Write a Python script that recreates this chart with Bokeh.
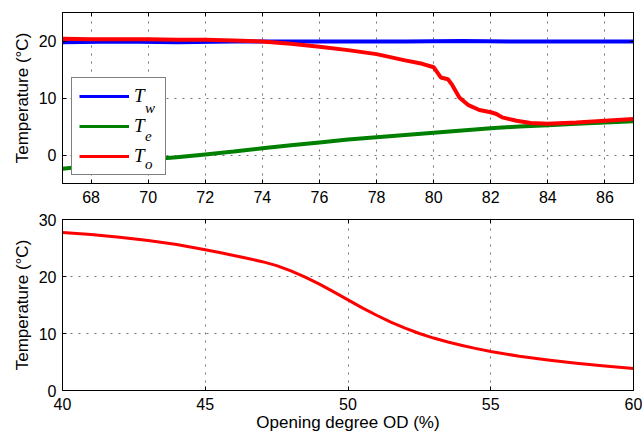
from bokeh.plotting import figure
from bokeh.models import Range1d, FixedTicker, LinearAxis, Legend, LegendItem
from bokeh.layouts import column
from bokeh.embed import file_html
from bokeh.resources import INLINE

# ---- data: top panel ----
x_w = [67, 69, 71, 73, 75, 77, 79, 81, 83, 85, 87]
T_w = [19.8, 19.9, 19.8, 19.9, 19.9, 19.9, 19.9, 20.0, 19.9, 19.9, 19.9]

x_e = [67, 68, 69, 70, 71, 72, 73, 74, 75, 76, 77, 78, 79, 80, 81, 82, 83, 84, 85, 86, 87]
T_e = [-2.4, -1.9, -1.4, -0.8, -0.4, 0.1, 0.6, 1.2, 1.7, 2.2, 2.7, 3.1, 3.5, 3.9,
       4.3, 4.7, 5.0, 5.2, 5.5, 5.7, 5.9]

x_o = [67, 68, 69, 70, 71, 72, 73, 74, 75, 76, 77, 78, 79, 79.6, 80.0, 80.25, 80.5,
       80.65, 80.9, 81.2, 81.6, 82.0, 82.2, 82.4, 82.9, 83.4, 84.0, 85.0, 86.0, 87.0]
T_o = [20.4, 20.3, 20.3, 20.3, 20.2, 20.2, 20.1, 19.9, 19.5, 19.0, 18.4, 17.7, 16.6,
       16.0, 15.4, 13.6, 13.3, 12.3, 10.1, 8.8, 7.9, 7.5, 7.2, 6.6, 6.0, 5.6, 5.5,
       5.7, 6.0, 6.3]

# ---- data: bottom panel ----
OD = [40, 41, 42, 43, 44, 45, 45.5, 46, 46.5, 47, 47.5, 48, 48.5, 49, 49.5, 50, 50.5,
      51, 51.5, 52, 52.5, 53, 53.5, 54, 54.5, 55, 56, 57, 58, 59, 60]
T_od = [27.7, 27.35, 26.9, 26.3, 25.6, 24.7, 24.2, 23.7, 23.15, 22.6, 21.9, 21.0, 19.9,
        18.65, 17.3, 15.9, 14.5, 13.2, 12.0, 10.95, 10.0, 9.2, 8.5, 7.9, 7.35, 6.85,
        6.0, 5.35, 4.8, 4.3, 3.85]

top_xticks = [68, 70, 72, 74, 76, 78, 80, 82, 84, 86]
top_yticks = [0, 10, 20]
bot_xticks = [40, 45, 50, 55, 60]
bot_yticks = [0, 10, 20, 30]
legend_main = ["T", "T", "T"]
legend_subs = ["w", "e", "o"]

FONT = "Liberation Sans"
SERIF = "Liberation Serif"


def style(p, xt, yt):
    p.outline_line_color = "black"
    p.outline_line_width = 1
    p.background_fill_color = "white"
    p.border_fill_color = "white"
    p.xaxis.ticker = FixedTicker(ticks=xt)
    p.yaxis.ticker = FixedTicker(ticks=yt)
    p.xgrid.ticker = FixedTicker(ticks=xt)
    p.ygrid.ticker = FixedTicker(ticks=yt)
    for g in (p.xgrid, p.ygrid):
        g.grid_line_color = "#707070"
        g.grid_line_dash = "2 6"
        g.grid_line_width = 1
    for ax in (p.below[0], p.left[0]):
        ax.major_tick_in = 4
        ax.major_tick_out = 0
        ax.minor_tick_line_color = None
        ax.axis_line_color = "black"
        ax.major_tick_line_color = "black"
        ax.major_label_text_font = FONT
        ax.major_label_text_font_size = "16px"
        ax.major_label_text_color = "black"
        ax.axis_label_text_font = FONT
        ax.axis_label_text_font_size = "17px"
        ax.axis_label_text_font_style = "normal"
        ax.axis_label_text_color = "black"
    p.below[0].major_label_standoff = 7
    p.left[0].major_label_standoff = 6
    # mirrored inward ticks on top and right (no labels)
    top = LinearAxis(ticker=FixedTicker(ticks=xt), major_tick_in=4, major_tick_out=0,
                     minor_tick_line_color=None, major_label_text_font_size="1px",
                     major_label_text_color=None,
                     major_label_standoff=0, axis_line_color="black")
    right = LinearAxis(ticker=FixedTicker(ticks=yt), major_tick_in=4, major_tick_out=0,
                       minor_tick_line_color=None, major_label_text_font_size="1px",
                       major_label_text_color=None,
                       major_label_standoff=0, axis_line_color="black")
    p.add_layout(top, "above")
    p.add_layout(right, "right")


p1 = figure(frame_width=571, frame_height=171, min_border_left=62, min_border_right=9,
            min_border_top=12, min_border_bottom=29,
            x_range=Range1d(67, 87), y_range=Range1d(-5, 25),
            output_backend="svg", toolbar_location=None)
style(p1, top_xticks, top_yticks)
p1.left[0].axis_label = "Temperature (°C)"
p1.left[0].axis_label_standoff = 4

p1.line(x_w, T_w, line_color="#0000FF", line_width=4)
p1.line(x_e, T_e, line_color="#008000", line_width=4)
p1.line(x_o, T_o, line_color="#FF0000", line_width=4)

# thinner proxies for the legend samples
lw = p1.line(x_w, T_w, line_color="#0000FF", line_width=3, visible=False)
le = p1.line(x_e, T_e, line_color="#008000", line_width=3, visible=False)
lo = p1.line(x_o, T_o, line_color="#FF0000", line_width=3, visible=False)
proxies = [lw, le, lo]

legend = Legend(items=[LegendItem(label=t, renderers=[r]) for t, r in zip(legend_main, proxies)],
                location=(9, 8), margin=0, padding=7, spacing=8,
                glyph_width=50, glyph_height=20, label_height=20, label_width=24,
                label_standoff=5,
                label_text_font=SERIF, label_text_font_style="italic",
                label_text_font_size="19px", label_text_color="black",
                border_line_color="black", border_line_width=1,
                background_fill_color="white", background_fill_alpha=1.0)
p1.add_layout(legend, "center")

# transparent overlay legend carrying the subscripts
ghosts = [p1.line(x_w, T_w, line_alpha=0, visible=False),
          p1.line(x_e, T_e, line_alpha=0, visible=False),
          p1.line(x_o, T_o, line_alpha=0, visible=False)]
sub_legend = Legend(items=[LegendItem(label=s, renderers=[r]) for s, r in zip(legend_subs, ghosts)],
                    location=(9, 9), margin=0, padding=0, spacing=8,
                    glyph_width=69, glyph_height=20, label_height=20, label_width=10,
                    label_standoff=5,
                    label_text_font=SERIF, label_text_font_style="italic",
                    label_text_font_size="15px", label_text_color="black",
                    border_line_color=None, background_fill_alpha=0.0)
p1.add_layout(sub_legend, "center")

p2 = figure(frame_width=571, frame_height=171, min_border_left=62, min_border_right=9,
            min_border_top=7, min_border_bottom=42,
            x_range=Range1d(40, 60), y_range=Range1d(0, 30),
            output_backend="svg", toolbar_location=None)
style(p2, bot_xticks, bot_yticks)
p2.left[0].axis_label = "Temperature (°C)"
p2.left[0].axis_label_standoff = 4
p2.below[0].axis_label = "Opening degree OD (%)"
p2.below[0].axis_label_standoff = 0

p2.line(OD, T_od, line_color="#FF0000", line_width=3, line_join="round")

layout = column(p1, p2, spacing=0)
open("out.html", "w").write(file_html(layout, INLINE))
